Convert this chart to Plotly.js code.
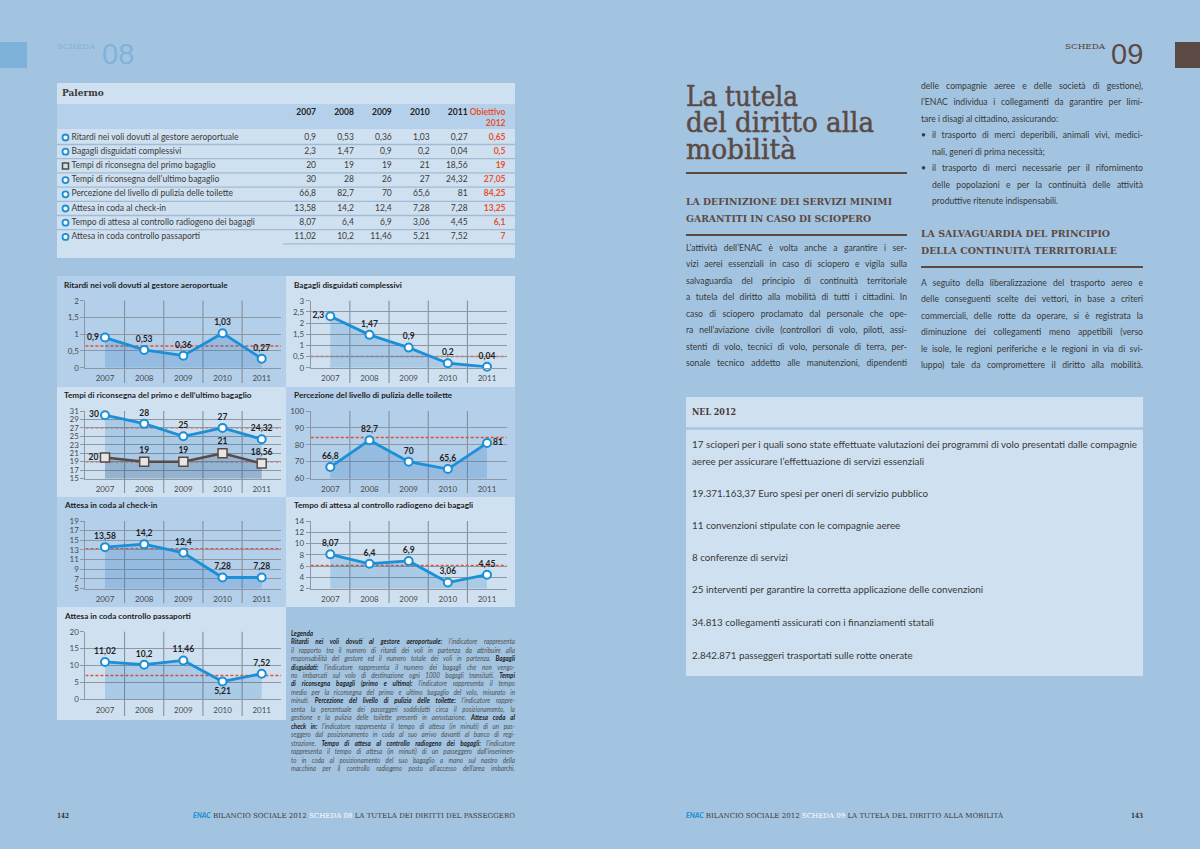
<!DOCTYPE html>
<html><head><meta charset="utf-8">
<script src="https://cdn.plot.ly/plotly-3.0.1.min.js"></script>
<style>
body{margin:0;background:#a3c4e0;}
#wrap{position:relative;width:1200px;height:849px;overflow:hidden;background:#a3c4e0;}
#plot{position:absolute;left:0;top:0;width:1200px;height:849px;}
.tx{position:absolute;white-space:nowrap;pointer-events:none;line-height:1.1;}
.ln{position:absolute;white-space:nowrap;pointer-events:none;box-sizing:border-box;transform-origin:0 0;}
</style></head><body>
<div id="wrap"><div id="plot"></div><div id="txt"></div></div>
<script>
// ---------------- DATA ----------------
const years = ['2007','2008','2009','2010','2011'];
const annoObiettivo = 2012;
const indicatori = [
  'Ritardi nei voli dovuti al gestore aeroportuale',
  'Bagagli disguidati complessivi',
  'Tempi di riconsegna del primo bagaglio',
  'Tempi di riconsegna dell’ultimo bagaglio',
  'Percezione del livello di pulizia delle toilette',
  'Attesa in coda al check-in',
  'Tempo di attesa al controllo radiogeno dei bagagli',
  'Attesa in coda controllo passaporti'
];
const marcatori = ['circle','circle','square','circle','circle','circle','circle','circle'];
const ritardi = [0.9, 0.53, 0.36, 1.03, 0.27];
const bagagliDisguidati = [2.3, 1.47, 0.9, 0.2, 0.04];
const primoBagaglio = [20, 19, 19, 21, 18.56];
const ultimoBagaglio = [30, 28, 26, 27, 24.32];
const ultimoBagaglioGrafico = [30, 28, 25, 27, 24.32];
const pulizia = [66.8, 82.7, 70, 65.6, 81];
const checkin = [13.58, 14.2, 12.4, 7.28, 7.28];
const radiogeno = [8.07, 6.4, 6.9, 3.06, 4.45];
const passaporti = [11.02, 10.2, 11.46, 5.21, 7.52];
const obiettivo2012 = [0.65, 0.5, 19, 27.05, 84.25, 13.25, 6.1, 7];
const tabella = [ritardi, bagagliDisguidati, primoBagaglio, ultimoBagaglio, pulizia, checkin, radiogeno, passaporti];

const titoliGrafici = [
  'Ritardi nei voli dovuti al gestore aeroportuale',
  'Bagagli disguidati complessivi',
  'Tempi di riconsegna del primo e dell’ultimo bagaglio',
  'Percezione del livello di pulizia delle toilette',
  'Attesa in coda al check-in',
  'Tempo di attesa al controllo radiogeno dei bagagli',
  'Attesa in coda controllo passaporti'
];

// ---------------- helpers ----------------
const W = 1200, H = 849;
const px = v => v / W;
const py = v => 1 - v / H;
const fmt = v => String(v).replace('.', ',');
const FONT = 'Lato, "Open Sans", sans-serif';
const TC = 'top center', ML = 'middle left', MR = 'middle right', BC = 'bottom center';

const grafici = [
  {col:0,row:0,range:[0,2],dtick:0.5,serie:[{y:ritardi,pos:[ML,TC,TC,TC,TC]}],obiettivi:[obiettivo2012[0]]},
  {col:1,row:0,range:[0,3],dtick:0.5,serie:[{y:bagagliDisguidati,pos:[ML,TC,TC,TC,TC]}],obiettivi:[obiettivo2012[1]]},
  {col:0,row:1,range:[15,31],dtick:2,serie:[{y:ultimoBagaglioGrafico,pos:[ML,TC,TC,TC,TC]},{y:primoBagaglio,sq:true,pos:[ML,TC,TC,TC,TC]}],obiettivi:[obiettivo2012[3],obiettivo2012[2]]},
  {col:1,row:1,range:[60,100],dtick:10,serie:[{y:pulizia,pos:[TC,TC,TC,TC,MR]}],obiettivi:[obiettivo2012[4]]},
  {col:0,row:2,range:[5,19],dtick:2,serie:[{y:checkin,pos:[TC,TC,TC,TC,TC]}],obiettivi:[obiettivo2012[5]]},
  {col:1,row:2,range:[2,14],dtick:2,serie:[{y:radiogeno,pos:[TC,TC,TC,TC,TC]}],obiettivi:[obiettivo2012[6]]},
  {col:0,row:3,range:[0,20],dtick:5,serie:[{y:passaporti,pos:[TC,TC,TC,BC,TC]}],obiettivi:[obiettivo2012[7]]}
];

const rows = [
  {top:300.7,bot:367.7,title:285,pTop:276,pBot:387},
  {top:411,bot:478.5,title:394.5,pTop:387,pBot:497},
  {top:521,bot:588.5,title:505,pTop:497,pBot:607},
  {top:631.7,bot:699,title:616,pTop:607,pBot:720}
];
const cols = [
  {x0:85.4,x1:281.3,pL:57,pR:286,tx:62},
  {x0:310.7,x1:506.6,pL:286,pR:515,tx:292}
];
const DARK = '#b3cfe9', LIGHT = '#cfe1f1';
const GRID = '#8d98a3';
const BLUE = '#1b8fd8';
const RED = '#e5502e';
const BROWN = '#5b4a44';
const CLEAR = 'rgba(0,0,0,0)';

const traces = [];
const shapes = [];
const annotations = [];
const layout = {
  width: W, height: H, margin:{l:0,r:0,t:0,b:0},
  paper_bgcolor:'#a3c4e0', plot_bgcolor:CLEAR,
  showlegend:false, separators:',.',
  font:{family:FONT, color:'#333'}
};
const rectP = (x0,x1,y0,y1,fill) => ({type:'rect',xref:'paper',yref:'paper',x0:px(x0),x1:px(x1),y0:py(y1),y1:py(y0),fillcolor:fill,line:{width:0},layer:'below'});

// page decorations
shapes.push(rectP(0,27,42,68,'#7eb1d8'));
shapes.push(rectP(1175,1200,42,68,BROWN));
shapes.push(rectP(57,515,83,258,LIGHT));          // table box
shapes.push(rectP(57,515,104,129,'#b5d0ea'));     // table header band
shapes.push(rectP(686,1143,397,676,LIGHT));       // NEL 2012 box
shapes.push({type:'line',xref:'paper',yref:'paper',x0:px(686),x1:px(1143),y0:py(428.5),y1:py(428.5),line:{color:'#a6c6e2',width:2.5}});
[[686,907,173],[686,907,235],[921,1143,267]].forEach(r=>{
  shapes.push({type:'line',xref:'paper',yref:'paper',x0:px(r[0]),x1:px(r[1]),y0:py(r[2]),y1:py(r[2]),line:{color:BROWN,width:2}});
});

// ---------------- table (drawn on a hidden axis pair) ----------------
const tabX = p => 2007 + (p - 316) / 37.9;     // pixel -> table x (year scale)
const tabY = p => (p - 137.5) / 14.2;         // pixel -> table row position
layout.xaxis8 = {domain:[px(57),px(515)],range:[tabX(57),tabX(515)],visible:false,fixedrange:true,anchor:'y8'};
layout.yaxis8 = {domain:[py(258),py(83)],range:[tabY(258),tabY(83)],visible:false,fixedrange:true,anchor:'x8'};
const righe = indicatori.map((_,i)=>i);
const tabText = (x, y, text, pos, color) => ({
  type:'scatter',xaxis:'x8',yaxis:'y8',x:x,y:y,mode:'text',text:text,textposition:pos,
  textfont:{family:FONT,size:8.5,color:color},marker:{size:1},cliponaxis:false,hoverinfo:'skip'});
// icons
traces.push({type:'scatter',xaxis:'x8',yaxis:'y8',x:righe.map(()=>tabX(65.5)),y:righe,mode:'markers',
  marker:{symbol:marcatori,size:6,color:marcatori.map(m=>m==='square'?'#dcdcdc':'#ffffff'),
    line:{color:marcatori.map(m=>m==='square'?'#4a4a4a':BLUE),width:marcatori.map(m=>m==='square'?1.5:1.8)}},
  cliponaxis:false,hoverinfo:'skip'});
// labels
traces.push(tabText(righe.map(()=>tabX(71.5)), righe, indicatori, 'middle right', '#3a3a3a'));
// header years + objective
traces.push(tabText(years.map(Number), years.map(()=>tabY(113)), years.map(y=>'<b>'+y+'</b>'), 'middle left', '#222'));
traces.push(tabText([annoObiettivo], [tabY(118)], ['<b>Obiettivo<br>'+annoObiettivo+'</b>'], 'middle left', RED));
// values
years.forEach((y,j)=>{
  traces.push(tabText(righe.map(()=>Number(y)), righe, tabella.map(r=>fmt(r[j])), 'middle left', '#3a3a3a'));
});
traces.push(tabText(righe.map(()=>annoObiettivo), righe, obiettivo2012.map(v=>'<b>'+fmt(v)+'</b>'), 'middle left', RED));
for (let k=1;k<=8;k++){
  const yy = 130.3 + 14.2*k;
  shapes.push({type:'line',xref:'paper',yref:'paper',x0:px(k===8?283:57),x1:px(515),y0:py(yy),y1:py(yy),line:{color:'#a3bad2',width:1.3}});
}

// ---------------- charts ----------------
grafici.forEach((g,i)=>{
  const k = i+1;
  const xa = k===1?'xaxis':'xaxis'+k, ya = k===1?'yaxis':'yaxis'+k;
  const xr = k===1?'x':'x'+k, yr = k===1?'y':'y'+k;
  const R = rows[g.row], C = cols[g.col];
  shapes.push(rectP(C.pL,C.pR,R.pTop,R.pBot,((g.row+g.col)%2===0)?DARK:LIGHT));
  layout[xa] = {domain:[px(C.x0),px(C.x1)],anchor:yr,type:'category',range:[-0.5,4.5],
    showgrid:false,zeroline:false,showline:true,linecolor:GRID,linewidth:1,ticks:'',ticklabelstandoff:3,
    tickfont:{family:FONT,size:8,color:'#4a4a4a'},fixedrange:true};
  layout[ya] = {domain:[py(R.bot),py(R.top)],anchor:xr,range:g.range,dtick:g.dtick,tick0:g.range[0],
    showgrid:true,gridcolor:GRID,gridwidth:1,zeroline:false,showline:true,linecolor:GRID,linewidth:1,
    ticks:'outside',ticklen:4,tickcolor:GRID,tickfont:{family:FONT,size:8,color:'#4a4a4a'},fixedrange:true};
  for (let s=0;s<4;s++){
    shapes.push({type:'line',xref:xr,yref:'paper',x0:s+0.5,x1:s+0.5,y0:py(R.pBot-4),y1:py(R.top),
      line:{color:'#7f8a95',width:1},layer:'below'});
  }
  g.obiettivi.forEach(t=>{
    shapes.push({type:'line',xref:xr,yref:yr,x0:-0.5,x1:4.5,y0:t,y1:t,
      line:{color:RED,width:1.5,dash:'3px,2px'},layer:'below'});
  });
  g.serie.forEach(s=>{
    const col = s.sq ? BROWN : BLUE;
    traces.push({
      type:'scatter',xaxis:xr,yaxis:yr,x:years,y:s.y,
      mode:'lines+markers+text',
      text:s.y.map(fmt),textposition:s.pos,
      textfont:{family:FONT,size:8.5,color:'#1e1e1e',weight:700},
      fill:'tozeroy',fillcolor:s.sq?'rgba(60,90,120,0.2)':'rgba(30,110,190,0.2)',
      line:{color:col,width:s.sq?2.5:2.8},
      marker:{symbol:s.sq?'square':'circle',size:s.sq?9:8,color:s.sq?'#e6e6e6':'#ffffff',line:{color:col,width:s.sq?1.5:2}},
      cliponaxis:false,hoverinfo:'skip'
    });
  });
  annotations.push({xref:'paper',yref:'paper',x:px(C.tx),y:py(R.title),xanchor:'left',yanchor:'middle',
    text:titoliGrafici[i],showarrow:false,font:{family:FONT,size:8.2,color:'#1e1e1e',weight:700}});
});

layout.shapes = shapes;
layout.annotations = annotations;
try { Plotly.newPlot('plot', traces, layout, {staticPlot:true, displayModeBar:false}); } catch(e) { console.error(e); }

// ---------------- page text ----------------
const txt = document.getElementById('txt');
function put(html, x, cy, font, color, target, extra){
  const e = document.createElement('div');
  e.className = 'tx';
  e.style.font = font; e.style.color = color; e.style.lineHeight = '1.1';
  e.style.left = x+'px';
  if (extra) e.style.cssText += extra;
  e.innerHTML = html; txt.appendChild(e);
  const r = e.getBoundingClientRect();
  e.style.top = (cy - r.height/2) + 'px';
  if (target){
    e.style.transformOrigin = '0 50%';
    e.style.transform = 'scaleX(' + (target/r.width) + ')';
  }
  return e;
}
function para(lines, x, cy0, w, lh, font, color, scale){
  lines.forEach((l,i)=>{
    const e = document.createElement('div');
    e.className = 'ln';
    const ind = l.ind || 0;
    e.style.cssText += 'left:'+x+'px;top:'+(cy0+i*lh-lh/2)+'px;width:'+(w/scale)+'px;height:'+lh+'px;line-height:'+lh+'px;'+
      'transform:scaleX('+scale+');font:'+font+';color:'+color+';padding-left:'+(ind/scale)+'px;'+
      'text-align:'+(l.j?'justify':'left')+';text-align-last:'+(l.j?'justify':'left')+';';
    e.innerHTML = (l.b ? '<span style="position:absolute;left:0">•</span>' : '') + l.t;
    txt.appendChild(e);
  });
}

put('SCHEDA', 57, 47, '8px "DejaVu Serif"', '#7fb3da', 38);
put('08', 102, 55, '29px "Liberation Sans", Arial, sans-serif', '#7fb3da');
put('SCHEDA', 1065, 47, '8px "DejaVu Serif"', '#4f4039', 40);
put('09', 1111, 55, '29px "Liberation Sans", Arial, sans-serif', BROWN);
put('<b>Palermo</b>', 62, 94, 'bold 9px "DejaVu Serif"', '#3a3a3a');

const TSTROKE = '-webkit-text-stroke:0.5px '+BROWN+';line-height:0.85;';
put('La tutela', 686, 97, '27px "DejaVu Serif"', BROWN, 112, TSTROKE);
put('del diritto alla', 686, 123, '27px "DejaVu Serif"', BROWN, 188, TSTROKE);
put('mobilità', 686, 150, '27px "DejaVu Serif"', BROWN, 110, TSTROKE);
put('LA DEFINIZIONE DEI SERVIZI MINIMI', 686, 202, 'bold 9.5px "DejaVu Serif"', BROWN, 206);
put('GARANTITI IN CASO DI SCIOPERO', 686, 219, 'bold 9.5px "DejaVu Serif"', BROWN, 185);
put('LA SALVAGUARDIA DEL PRINCIPIO', 921, 234, 'bold 9.5px "DejaVu Serif"', BROWN, 189);
put('DELLA CONTINUITÀ TERRITORIALE', 921, 251, 'bold 9.5px "DejaVu Serif"', BROWN, 196);

const BODY = '10px Lato, sans-serif', BCOL = '#383838', LH = 16.5, SC = 0.86;
para([
  {t:'L’attività dell’ENAC è volta anche a garantire i ser-',j:1},
  {t:'vizi aerei essenziali in caso di sciopero e vigila sulla',j:1},
  {t:'salvaguardia del principio di continuità territoriale',j:1},
  {t:'a tutela del diritto alla mobilità di tutti i cittadini. In',j:1},
  {t:'caso di sciopero proclamato dal personale che ope-',j:1},
  {t:'ra nell’aviazione civile (controllori di volo, piloti, assi-',j:1},
  {t:'stenti di volo, tecnici di volo, personale di terra, per-',j:1},
  {t:'sonale tecnico addetto alle manutenzioni, dipendenti',j:1}
], 686, 249, 221, LH, BODY, BCOL, SC);
para([
  {t:'delle compagnie aeree e delle società di gestione),',j:1},
  {t:'l’ENAC individua i collegamenti da garantire per limi-',j:1},
  {t:'tare i disagi al cittadino, assicurando:',j:0},
  {t:'il trasporto di merci deperibili, animali vivi, medici-',j:1,ind:11,b:1},
  {t:'nali, generi di prima necessità;',j:0,ind:11},
  {t:'il trasporto di merci necessarie per il rifornimento',j:1,ind:11,b:1},
  {t:'delle popolazioni e per la continuità delle attività',j:1,ind:11},
  {t:'produttive ritenute indispensabili.',j:0,ind:11}
], 921, 87, 222, LH, BODY, BCOL, SC);
para([
  {t:'A seguito della liberalizzazione del trasporto aereo e',j:1},
  {t:'delle conseguenti scelte dei vettori, in base a criteri',j:1},
  {t:'commerciali, delle rotte da operare, si è registrata la',j:1},
  {t:'diminuzione dei collegamenti meno appetibili (verso',j:1},
  {t:'le isole, le regioni periferiche e le regioni in via di svi-',j:1},
  {t:'luppo) tale da compromettere il diritto alla mobilità.',j:1}
], 921, 284, 222, LH, BODY, BCOL, SC);

put('NEL 2012', 692, 412, 'bold 9.5px "DejaVu Serif"', '#4a3a34', 44);
const first = put('17 scioperi per i quali sono state effettuate valutazioni dei programmi di volo presentati dalle compagnie', 692, 444, BODY, BCOL, 445);
const boxScale = parseFloat(first.style.transform.replace('scaleX(',''));
[
  ['aeree per assicurare l’effettuazione di servizi essenziali',461],
  ['19.371.163,37 Euro spesi per oneri di servizio pubblico',493],
  ['11 convenzioni stipulate con le compagnie aeree',525],
  ['8 conferenze di servizi',557],
  ['25 interventi per garantire la corretta applicazione delle convenzioni',589],
  ['34.813 collegamenti assicurati con i finanziamenti statali',622],
  ['2.842.871 passeggeri trasportati sulle rotte onerate',655]
].forEach(a=>{
  const e = put(a[0], 692, a[1], BODY, BCOL);
  e.style.transformOrigin = '0 50%';
  e.style.transform = 'scaleX('+boxScale+')';
});

const LF = 'italic 6.8px Lato, sans-serif';
const B = s => '<b style="color:#1e1e1e">'+s+'</b>';
para([
  {t:B('Legenda'),j:0},
  {t:B('Ritardi nei voli dovuti al gestore aeroportuale:')+' l’indicatore rappresenta',j:1},
  {t:'il rapporto tra il numero di ritardi dei voli in partenza da attribuire alla',j:1},
  {t:'responsabilità del gestore ed il numero totale dei voli in partenza. '+B('Bagagli'),j:1},
  {t:B('disguidati:')+' l’indicatore rappresenta il numero dei bagagli che non vengo-',j:1},
  {t:'no imbarcati sul volo di destinazione ogni 1000 bagagli transitati. '+B('Tempi'),j:1},
  {t:B('di riconsegna bagagli (primo e ultimo):')+' l’indicatore rappresenta il tempo',j:1},
  {t:'medio per la riconsegna del primo e ultimo bagaglio del volo, misurato in',j:1},
  {t:'minuti. '+B('Percezione del livello di pulizia delle toilette:')+' l’indicatore rappre-',j:1},
  {t:'senta la percentuale dei passeggeri soddisfatti circa il posizionamento, la',j:1},
  {t:'gestione e la pulizia delle toilette presenti in aerostazione. '+B('Attesa coda al'),j:1},
  {t:B('check in:')+' l’indicatore rappresenta il tempo di attesa (in minuti) di un pas-',j:1},
  {t:'seggero dal posizionamento in coda al suo arrivo davanti al banco di regi-',j:1},
  {t:'strazione. '+B('Tempo di attesa al controllo radiogeno dei bagagli:')+' l’indicatore',j:1},
  {t:'rappresenta il tempo di attesa (in minuti) di un passeggero dall’inserimen-',j:1},
  {t:'to in coda al posizionamento del suo bagaglio a mano sul nastro della',j:1},
  {t:'macchina per il controllo radiogeno posto all’accesso dell’area imbarchi.',j:1}
], 291, 633, 224, 8.45, LF, '#505050', 0.92);

const FF = '7px "DejaVu Serif"';
const enac = '<span style="color:#1b8fd8;font-family:Lato;font-weight:900;font-style:italic">ENAC</span> ';
put('142', 57, 816, 'bold '+FF, '#333', 12);
put(enac+'BILANCIO SOCIALE 2012 <span style="color:#fff">SCHEDA 08</span> LA TUTELA DEI DIRITTI DEL PASSEGGERO', 193, 816, FF, '#3a3a3a', 322);
put(enac+'BILANCIO SOCIALE 2012 <span style="color:#fff">SCHEDA 09</span> LA TUTELA DEL DIRITTO ALLA MOBILITÀ', 686, 816, FF, '#3a3a3a', 317);
put('143', 1131, 816, 'bold '+FF, '#333', 12);
</script></body></html>
